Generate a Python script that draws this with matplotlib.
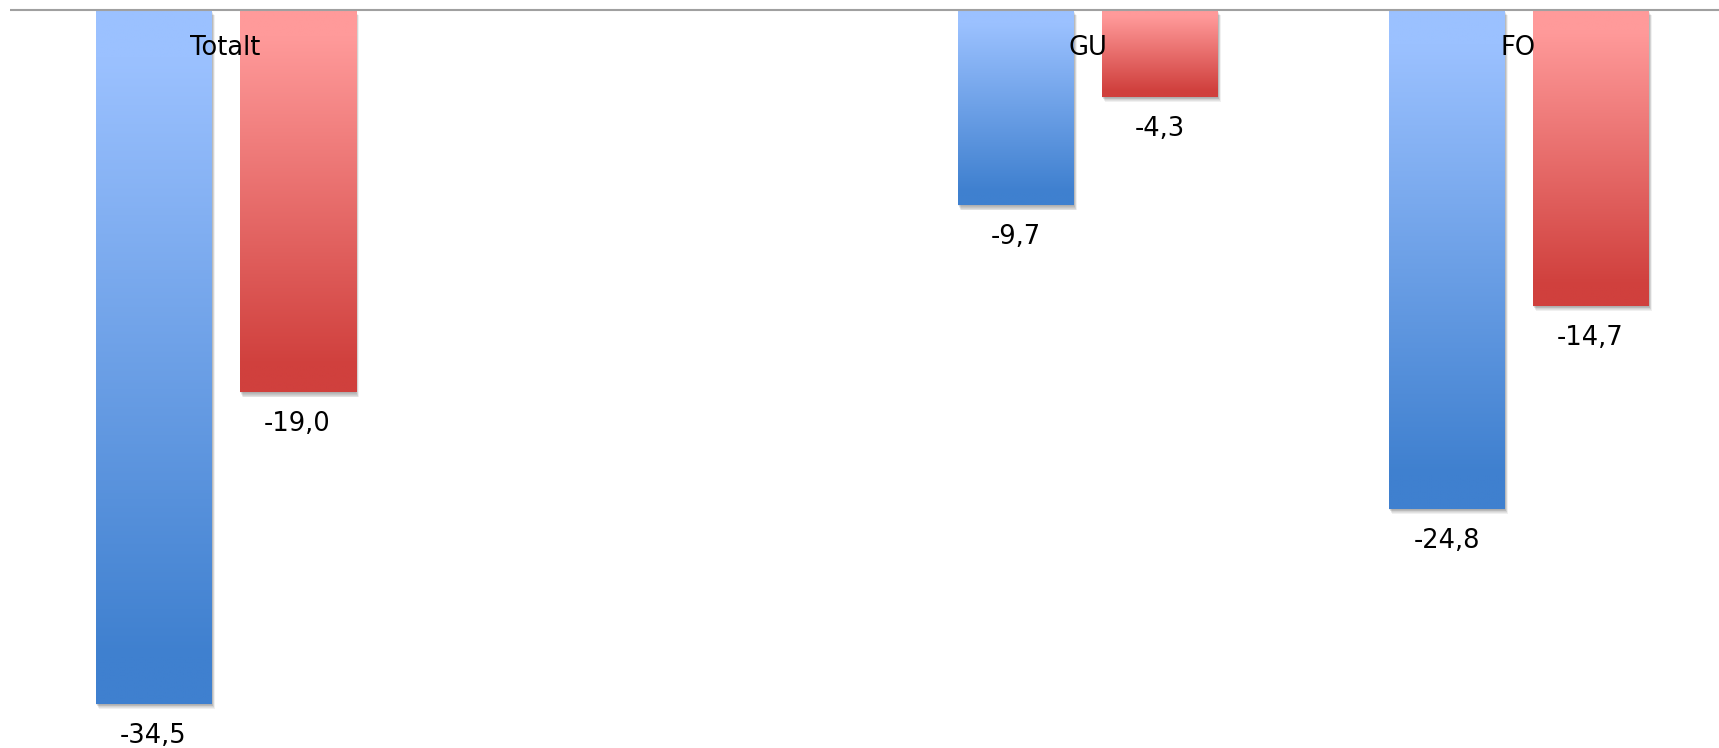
import numpy as np
import matplotlib
matplotlib.use('Agg')
import matplotlib.pyplot as plt
import matplotlib.patheffects as pe
from matplotlib.colors import to_rgb

# Data
categories = ['Totalt', '', 'GU', 'FO']
series_blue = [-34.5, np.nan, -9.7, -24.8]
series_red = [-19.0, np.nan, -4.3, -14.7]

blue_top, blue_bottom = '#9BC1FF', '#3F80CF'
red_top, red_bottom = '#FF9A9A', '#D0403D'

W, H = 1719, 748
fig = plt.figure(figsize=(W / 100, H / 100), dpi=100)
# plot area starts 10 px from the left, cropped at the right edge
ax = fig.add_axes([10 / W, 0, 1 - 10 / W, 1])

cat_px = 431.0      # pixels per category
unit_px = 20.1      # pixels per value unit
zero_px = 10.5      # zero line from the top
x0, x1 = -0.5, -0.5 + (W - 10) / cat_px
y0, y1 = -(H - zero_px) / unit_px, zero_px / unit_px

x = np.arange(len(categories))
bw = 116 / cat_px
off = 72 / cat_px

# soft drop shadow: a few faint offset copies
shadow = [pe.SimplePatchShadow(offset=(o * 0.6, -o), shadow_rgbFace='#000000', alpha=0.06)
          for o in (0.6, 1.2, 1.8, 2.4, 3.0, 3.6)] + [pe.Normal()]

def gradient_bars(xs, vals, top, bottom):
    bars = ax.bar(xs, vals, width=bw, facecolor='none', edgecolor='none', zorder=2)
    t = np.clip((np.linspace(0, 1, 256) - 0.07) / 0.86, 0, 1)[:, None]
    c0, c1 = np.array(to_rgb(top)), np.array(to_rgb(bottom))
    img = (c0 * (1 - t) + c1 * t)[:, None, :]
    for b, v in zip(bars, vals):
        if np.isnan(v):
            continue
        b.set_path_effects(shadow)
        left = b.get_x()
        lo, hi = min(0, v), max(0, v)
        im = ax.imshow(img, extent=(left, left + b.get_width(), lo, hi),
                       aspect='auto', origin='upper', zorder=3, interpolation='bilinear')
        im.set_clip_path(b)
        ax.annotate(f'{v:.1f}'.replace('.', ','), (b.get_x() + b.get_width() / 2, v),
                    xytext=(0, -39), textcoords='offset pixels', ha='center', va='baseline',
                    fontsize=18.5, color='#000000', zorder=5)
    return bars

gradient_bars(x - off, series_blue, blue_top, blue_bottom)
gradient_bars(x + off, series_red, red_top, red_bottom)

# category labels sit just under the zero line
for i, name in enumerate(categories):
    if name:
        ax.annotate(name, (i, 0), xytext=(0, -44.5), textcoords='offset pixels',
                    ha='center', va='baseline', fontsize=18.5, color='#000000', zorder=5)

ax.axhline(0, color='#A0A0A0', lw=1.5, zorder=4)

ax.set_xlim(x0, x1)
ax.set_ylim(y0, y1)
ax.axis('off')

fig.savefig('out.png', dpi=100)
